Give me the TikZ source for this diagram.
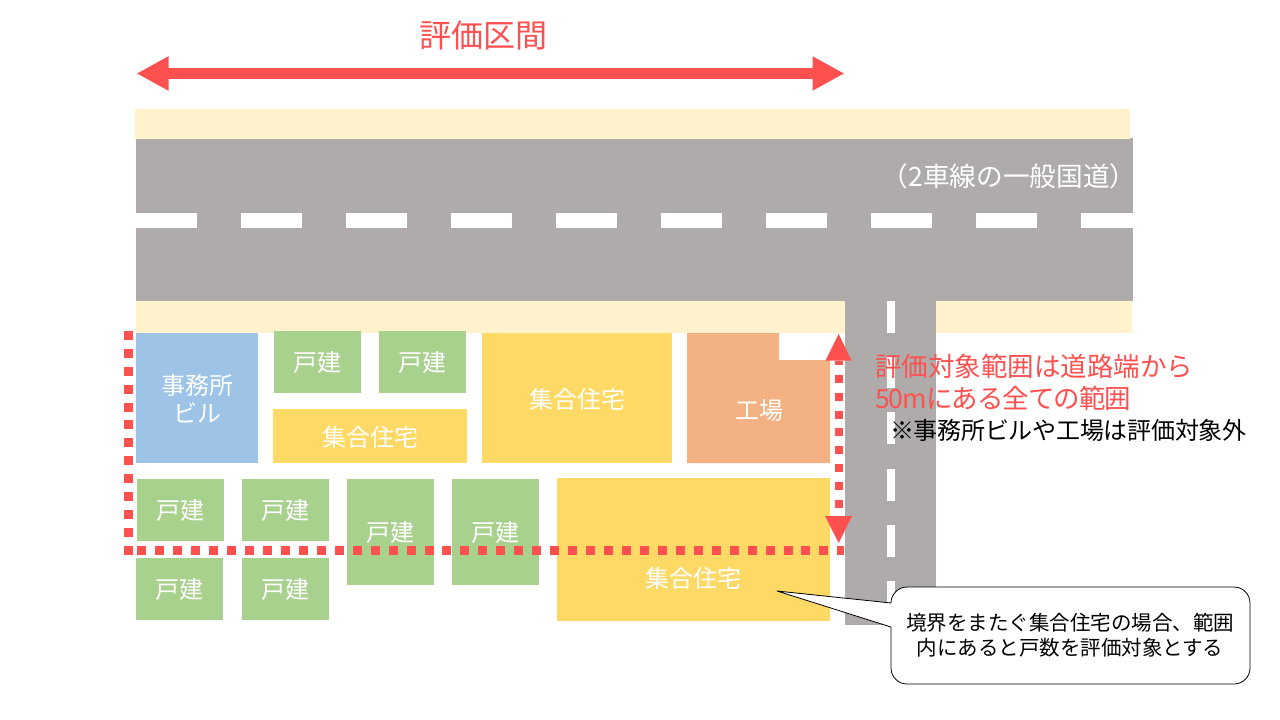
\documentclass[tikz,border=0pt]{standalone}
\usepackage{fontspec}
\setmainfont{Noto Sans CJK JP}
\usetikzlibrary{arrows.meta}
\definecolor{redc}{HTML}{FF5050}
\definecolor{roadc}{HTML}{AFABAB}
\definecolor{walkc}{HTML}{FFF2CC}
\definecolor{bluec}{HTML}{9DC3E6}
\definecolor{greenc}{HTML}{A9D18E}
\definecolor{yellowc}{HTML}{FFD966}
\definecolor{orangec}{HTML}{F4B183}
\newcommand{\fs}[1]{\fontsize{#1}{#1}\selectfont}
\tikzset{
  bldg/.style={inner sep=0pt,outer sep=0pt},
  bldgtext/.style={inner sep=0pt,text=white,align=center,font=\fs{24}},
  house/.style={bldg,fill=greenc},
  flats/.style={bldg,fill=yellowc},
  office/.style={bldg,fill=bluec},
  redtext/.style={text=redc,inner sep=0pt,anchor=west,font=\fs{26.5}},
  dotline/.style={draw=redc,line width=9pt,dash pattern=on 9pt off 8.95pt},
  dotthin/.style={draw=redc,line width=8.5pt,dash pattern=on 8pt off 9.8pt},
  bigarrow/.style={draw=redc,line width=11pt,{Triangle[length=32pt,width=32pt]}-{Triangle[length=32pt,width=32pt]}},
  headfill/.style={fill=redc},
  calloutbox/.style={draw=black,line width=0.8pt,fill=white,line join=round}
}
\newcommand{\bld}[7]{%
  \pgfmathsetmacro{\cxx}{(#3+#5)/2}\pgfmathsetmacro{\cyy}{(#4+#6)/2}%
  \pgfmathsetmacro{\wdd}{#5-#3}\pgfmathsetmacro{\htt}{#6-#4}%
  \node[#2,minimum width=\wdd pt,minimum height=\htt pt] (#1) at (\cxx,\cyy) {};
  \node[bldgtext] (#1t) at ([yshift=-1pt]#1.center) {#7};}
\begin{document}
\begin{tikzpicture}[x=1pt,y=-1pt]
\useasboundingbox (0,0) rectangle (1280,720);
\fill[white] (0,0) rectangle (1280,720);
% sidewalks and roads
\fill[roadc] (136,138) rectangle (1133,301);
\fill[walkc] (135,109) rectangle (1130,139);
\fill[walkc] (136,301) rectangle (845,333);
\fill[walkc] (936,301) rectangle (1132,333);
\fill[roadc] (845,301) rectangle (936,625);
\foreach \x in {136,241,346,451,556,661,766,871,976} \fill[white] (\x,213) rectangle ++(61,15);
\fill[white] (1081,213) rectangle (1133,228);
\foreach \y in {301,356,412,469,525,581} \fill[white] (887,\y) rectangle ++(8,32);
% buildings
\bld{office}{office}{136}{333}{258}{463}{事務所\\[4pt]ビル}
\bld{h1}{house}{274}{331}{361}{393}{戸建}
\bld{h2}{house}{379}{331}{466}{393}{戸建}
\bld{f1}{flats}{273}{409}{467}{463}{集合住宅}
\bld{f2}{flats}{482}{333}{672}{463}{集合住宅}
\fill[orangec] (687,333) -- (779,333) -- (779,360) -- (830,360) -- (830,463) -- (687,463) -- cycle;
\node[bldgtext] (factory) at (759,411) {工場};
\bld{h3}{house}{137}{479}{224}{541}{戸建}
\bld{h4}{house}{242}{479}{329}{541}{戸建}
\bld{h5}{house}{347}{479}{434}{585}{戸建}
\bld{h6}{house}{452}{479}{539}{585}{戸建}
\bld{h7}{house}{136}{558}{223}{620}{戸建}
\bld{h8}{house}{242}{558}{329}{620}{戸建}
\bld{f3}{flats}{557}{478}{830}{621}{}
\node[bldgtext] (f3text) at (693,578) {集合住宅};
% boundary
\coordinate (bTop) at (128.5,330.7);
\coordinate (bCorner) at (128.5,555);
\coordinate (bLeft) at (137.3,550.5);
\coordinate (bRight) at (844,550.5);
\draw[dotline] (bTop) -- (bCorner);
\draw[dotline] (bLeft) -- (bRight);
% 50 m arrow
\coordinate (vA) at (838.8,361);
\coordinate (vB) at (838.8,516);
\draw[dotthin,dash phase=3.8pt] (vA) -- (vB);
\fill[headfill] (838.7,334) -- (851.5,360.5) -- (825.5,360.5) -- cycle;
\fill[headfill] (838.7,543) -- (852,516) -- (825,516) -- cycle;
% span arrow
\coordinate (spanL) at (136.5,73.5);
\coordinate (spanR) at (844.5,73.5);
\draw[bigarrow] (spanL) -- (spanR);
% texts
\node[text=redc,inner sep=0pt,font=\fs{32}] (title) at (483,35) {評価区間};
\node[text=white,inner sep=0pt,font=\fs{26.67}] (roadlabel) at (1009,176) {（2車線の一般国道）};
\node[redtext] (r1) at (875,366) {評価対象範囲は道路端から};
\node[redtext] (r2) at (875,398) {\addfontfeature{LetterSpace=-3.8}50mにある全ての範囲};
\node[text=black,inner sep=0pt,anchor=west,font=\fs{24}] (note) at (890,430) {\addfontfeature{LetterSpace=-1.1}※事務所ビルや工場は評価対象外};
% callout
\draw[calloutbox] (891,603) -- (777,591) -- (891,627) -- (891,668)
  .. controls (891,676.8) and (898.2,684) .. (907,684) -- (1234,684)
  .. controls (1242.8,684) and (1250,676.8) .. (1250,668) -- (1250,603)
  .. controls (1250,594.2) and (1242.8,587) .. (1234,587) -- (907,587)
  .. controls (898.2,587) and (891,594.2) .. (891,603) -- cycle;
\node[text=black,inner sep=0pt,align=center,font=\fs{20.5}] (calltext) at (1070,635) {境界をまたぐ集合住宅の場合、範囲\\[4.5pt]内にあると戸数を評価対象とする};
\end{tikzpicture}
\end{document}
